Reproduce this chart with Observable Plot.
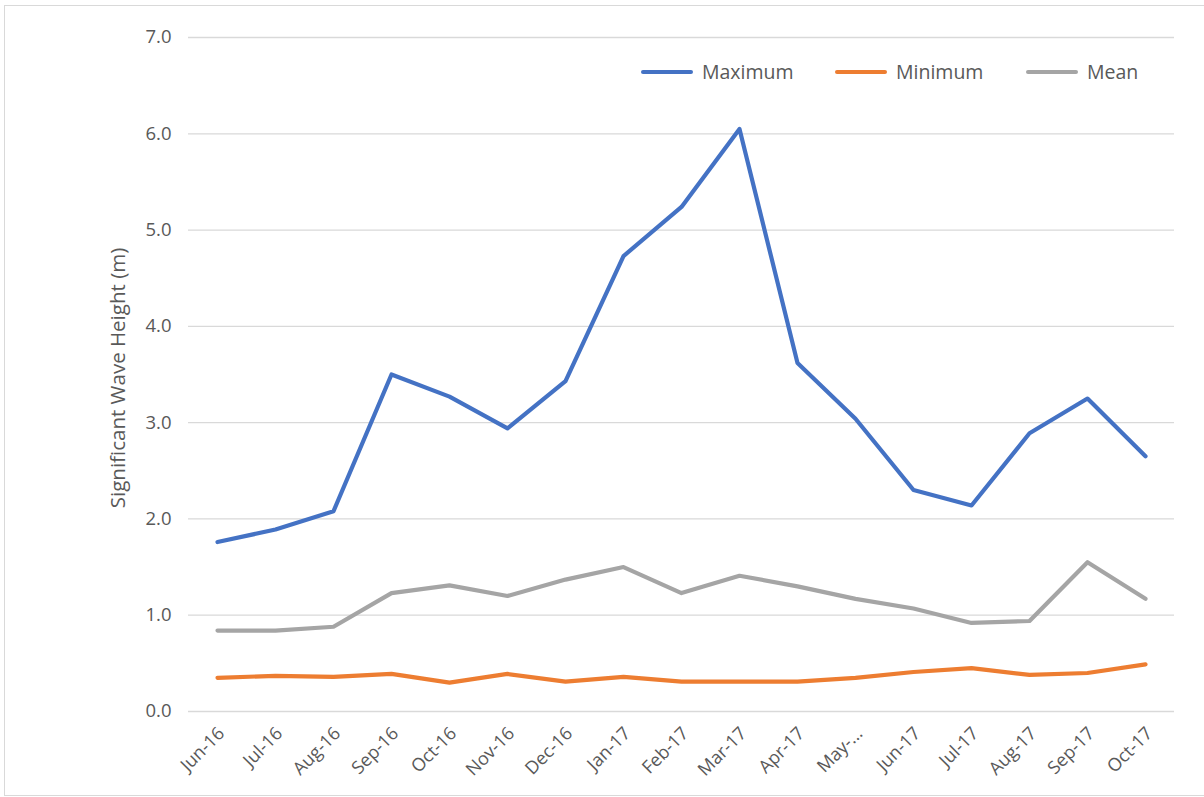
<!DOCTYPE html>
<html>
<head>
<meta charset="utf-8">
<script src="https://cdn.jsdelivr.net/npm/d3@7"></script>
<script src="https://cdn.jsdelivr.net/npm/@observablehq/plot@0.6"></script>
<style>
  html, body { margin: 0; padding: 0; background: #fff; }
  #wrap { position: relative; width: 1204px; height: 797px; overflow: hidden; font-family: "Open Sans", "Noto Sans", sans-serif; }
  #frame { position: absolute; left: 4px; top: 5px; width: 1210px; height: 791px; border: 1px solid #d9d9d9; box-sizing: border-box; }
  #chart { position: absolute; left: 0; top: 0; }
  .item { position: absolute; top: 58px; display: flex; align-items: center; font-size: 19.5px; color: #595959; white-space: nowrap; line-height: 28px; }
  .sw { width: 52px; height: 4.5px; margin-right: 9px; border-radius: 2px; }
</style>
</head>
<body>
<div id="wrap">
  <div id="frame"></div>
  <div id="chart"></div>
  <div id="legend"></div>
</div>
<script>
const months = ["Jun-16","Jul-16","Aug-16","Sep-16","Oct-16","Nov-16","Dec-16","Jan-17","Feb-17","Mar-17","Apr-17","May-...","Jun-17","Jul-17","Aug-17","Sep-17","Oct-17"];
const maximum = [1.76,1.89,2.08,3.50,3.27,2.94,3.43,4.73,5.24,6.05,3.62,3.04,2.30,2.14,2.89,3.25,2.65];
const minimum = [0.35,0.37,0.36,0.39,0.30,0.39,0.31,0.36,0.31,0.31,0.31,0.35,0.41,0.45,0.38,0.40,0.49];
const mean    = [0.84,0.84,0.88,1.23,1.31,1.20,1.37,1.50,1.23,1.41,1.30,1.17,1.07,0.92,0.94,1.55,1.17];
const seriesNames = ["Maximum","Minimum","Mean"];
const seriesColors = ["#4472C4","#ED7D31","#A5A5A5"];
const yTicks = [0,1,2,3,4,5,6,7];

const seriesValues = [maximum, minimum, mean];
const rows = [];
seriesNames.forEach((s, i) => months.forEach((m, j) => rows.push({series: s, month: m, value: seriesValues[i][j]})));

const chart = Plot.plot({
  width: 1204,
  height: 797,
  marginLeft: 188,
  marginRight: 30,
  marginTop: 37,
  marginBottom: 86,
  style: {fontFamily: "'Open Sans', 'Noto Sans', sans-serif", background: "transparent"},
  x: {type: "point", domain: months, padding: 0.5, label: null},
  y: {domain: [0, 7], label: null},
  color: {domain: seriesNames, range: seriesColors},
  marks: [
    Plot.gridY(yTicks, {stroke: "#d9d9d9", strokeOpacity: 1, strokeWidth: 1.3}),
    Plot.axisY(yTicks, {tickFormat: d3.format(".1f"), tickSize: 0, tickPadding: 17, fontSize: 18.5, fill: "#595959"}),
    Plot.axisX({tickSize: 0, tickRotate: -45, tickPadding: 19, fontSize: 18, fill: "#595959", dx: 4}),
    Plot.line(rows, {x: "month", y: "value", z: "series", stroke: "series", strokeWidth: 4.2, strokeLinejoin: "round", strokeLinecap: "round"})
  ]
});
document.getElementById("chart").appendChild(chart);

// y-axis title
const svg = d3.select(chart);
svg.append("text")
  .attr("transform", `translate(125, 378) rotate(-90)`)
  .attr("text-anchor", "middle")
  .attr("fill", "#595959")
  .style("font-size", "20.5px")
  .text("Significant Wave Height (m)");

// legend (HTML, positioned to mimic the reference)
const legendLeft = [641, 835, 1026];
const legend = document.getElementById("legend");
seriesNames.forEach((s, i) => {
  const it = document.createElement("div");
  it.className = "item";
  it.style.left = legendLeft[i] + "px";
  const sw = document.createElement("div");
  sw.className = "sw";
  sw.style.background = seriesColors[i];
  const t = document.createElement("span");
  t.textContent = s;
  it.appendChild(sw); it.appendChild(t);
  legend.appendChild(it);
});
</script>
</body>
</html>
